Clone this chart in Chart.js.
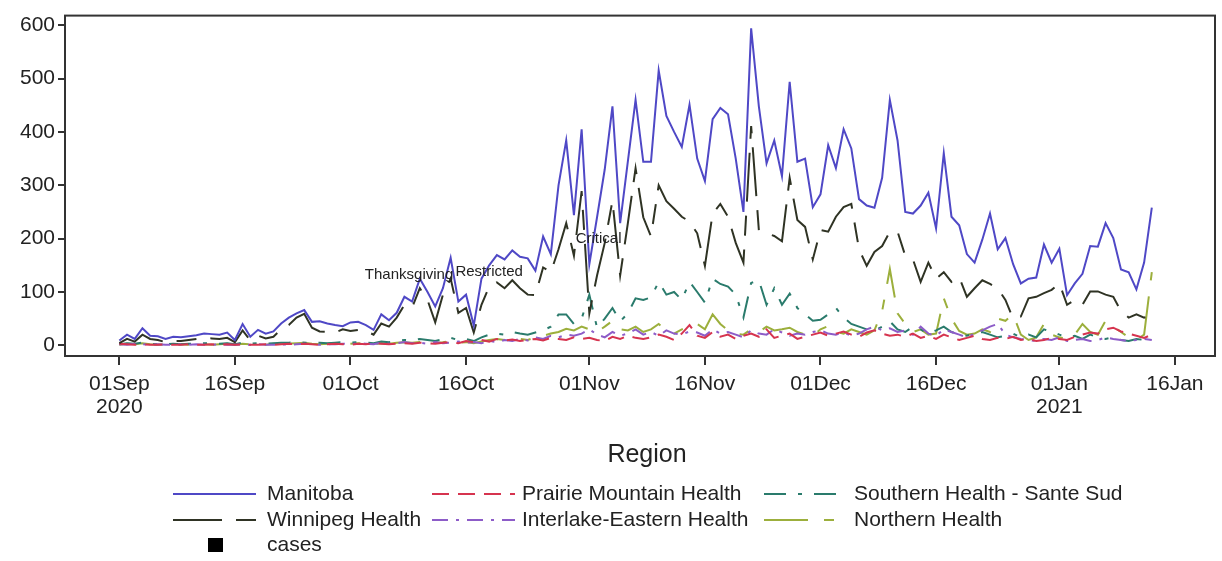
<!DOCTYPE html>
<html><head><meta charset="utf-8">
<script src="https://cdn.jsdelivr.net/npm/chart.js@4"></script>
<style>html,body{margin:0;padding:0;background:#fff;} canvas{display:block;}</style>
</head><body>
<canvas id="c" width="1222" height="561"></canvas>
<script>
// Day index 0 = 01Sep2020
const startDate = '2020-09-01';
const seriesNames = ["Manitoba","Winnipeg Health","Prairie Mountain Health","Interlake-Eastern Health","Southern Health - Sante Sud","Northern Health"];

const manitoba = [
 9,20,12,32,18,17,12,16,15,17,
 19,22,21,20,24,10,40,16,29,22,
 26,41,52,60,66,44,45,41,38,36,
 43,44,38,29,58,47,61,91,82,125,
 100,73,107,164,82,95,37,125,150,169,
 161,178,166,163,140,204,171,300,384,244,
 405,152,240,330,448,229,345,460,344,344,
 515,430,400,372,451,350,308,424,445,433,
 350,250,594,448,341,384,317,494,344,350,
 259,283,375,332,405,369,274,262,258,314,
 460,384,250,247,262,286,219,360,241,225,
 171,155,198,247,180,201,152,116,125,127,
 189,155,181,94,116,134,186,185,229,201,
 142,137,105,155,258];
const winnipeg = [
 4,12,7,20,12,10,6,8,8,10,
 12,14,13,12,14,6,28,9,18,13,
 16,30,38,52,59,33,26,25,24,30,
 27,29,27,20,41,35,52,76,71,107,
 85,43,95,125,61,70,24,76,110,118,
 107,122,107,95,94,146,137,180,229,168,
 289,60,131,192,271,131,229,332,240,204,
 300,270,256,241,232,210,149,247,265,241,
 192,155,411,216,210,205,195,314,235,222,
 161,216,213,241,259,265,180,149,175,186,
 213,213,168,161,119,155,125,137,119,128,
 91,107,122,115,107,85,50,54,88,91,
 98,104,116,76,85,76,101,101,95,91,
 64,52,58,52,55];
const prairie = [
 3,2,1,2,1,1,2,1,1,2,1,1,2,1,2,1,2,1,1,2,1,
 2,3,2,3,2,1,2,3,2,1,3,2,4,3,2,3,4,3,5,4,
 3,5,6,4,8,6,10,7,12,9,11,8,10,12,9,14,12,10,15,12,
 14,10,8,16,12,18,14,12,15,20,16,10,22,38,18,14,25,16,20,12,
 18,22,16,30,14,18,22,12,16,20,24,18,22,26,20,16,24,28,22,18,
 20,16,22,14,18,12,20,15,10,14,18,12,10,14,12,16,10,12,8,10,
 14,12,10,16,20,24,22,30,33,26,22,18,14,20];
const interlake = [
 2,1,3,2,1,2,1,1,2,1,2,1,1,2,1,1,2,1,2,1,1,
 2,1,2,3,2,1,2,2,3,2,4,3,2,5,3,4,6,4,5,3,
 6,4,5,7,5,6,4,8,6,10,8,12,9,15,12,18,15,20,18,22,
 30,20,15,25,18,22,30,20,25,18,28,22,20,26,24,18,30,22,25,20,
 15,28,22,20,30,24,18,22,20,25,28,22,20,24,18,22,30,35,28,32,
 25,28,20,35,22,18,30,25,20,15,22,28,35,40,20,15,12,10,8,12,
 10,15,8,10,12,8,10,15,12,10,8,10,12,10];
const southern = [
 2,4,3,5,3,2,2,3,2,3,3,4,4,3,4,2,5,3,4,3,4,
 5,5,6,5,4,5,4,5,6,5,6,5,4,7,6,
 8,10,9,12,10,8,12,14,10,12,8,15,20,22,20,
 25,22,20,24,28,35,58,58,40,50,
 95,33,50,70,45,60,88,85,90,119,
 95,100,85,119,100,80,125,115,110,95,
 52,117,122,76,107,76,97,70,58,46,
 48,58,70,52,40,35,30,28,35,45,
 30,25,35,30,22,28,35,25,20,18,
 22,25,20,15,18,22,15,20,15,30,
 25,20,15,18,12,20,15,12,15,10,
 8,12,10,8];
const northern = [
 1,3,2,4,2,1,2,1,2,1,2,2,1,2,3,1,3,2,2,1,3,
 2,3,4,5,3,2,3,4,2,3,4,3,2,4,3,
 5,6,5,6,4,5,6,8,5,6,4,7,10,12,10,
 14,12,10,15,18,22,25,31,28,35,
 30,25,35,46,30,28,35,25,30,40,
 28,22,30,35,40,30,58,40,28,22,
 20,30,25,35,28,30,33,25,20,18,
 30,36,25,22,30,25,20,28,64,143,
 60,40,25,30,20,22,88,50,27,20,
 22,30,25,50,46,58,20,10,15,40,
 20,15,12,20,40,25,20,46,35,25,
 15,10,20,137];

const tickDays = [0,15,30,45,61,76,91,106,122,137];
const tickLabels = [["01Sep","2020"],"16Sep","01Oct","16Oct","01Nov","16Nov","01Dec","16Dec",["01Jan","2021"],"16Jan"];
const yTicks = [0,100,200,300,400,500,600];

const annotTexts = ["Thanksgiving","Restricted","Critical"];
const annotDays = [37.6,48,62.2];
const annotValues = [132,137,199];

const FONT = "'Liberation Sans', Arial, sans-serif";
const TXT = '#222';
const AX = '#333';
const styles = [
 {color:'#4f48c6', dash:[]},
 {color:'#2f3324', dash:[49,14,20,14]},
 {color:'#d6344f', dash:[17,9]},
 {color:'#8d5cc8', dash:[16,8,3,8]},
 {color:'#2a7b6c', dash:[22,12,4,12]},
 {color:'#9caf3c', dash:[44,16,10,16]}
];
const seriesValues = [manitoba, winnipeg, prairie, interlake, southern, northern];

const datasets = seriesNames.map((n,i)=>({
  label:n,
  data: seriesValues[i].map((v,d)=>({x:d,y:v})),
  borderColor: styles[i].color,
  borderDash: styles[i].dash,
  borderWidth: 2,
  pointRadius: 0,
  tension: 0,
  fill: false
}));

const extras = {
  id:'extras',
  afterDraw(chart){
    const ctx = chart.ctx, ca = chart.chartArea;
    const xs = chart.scales.x, ys = chart.scales.y;
    ctx.save();
    // annotations
    ctx.font = "15px " + FONT;
    ctx.fillStyle = TXT;
    ctx.textAlign = 'center';
    ctx.textBaseline = 'middle';
    annotTexts.forEach((t,i)=>{
      ctx.fillText(t, xs.getPixelForValue(annotDays[i]), ys.getPixelForValue(annotValues[i]));
    });
    // frame
    ctx.strokeStyle = AX; ctx.lineWidth = 2; ctx.setLineDash([]);
    ctx.strokeRect(ca.left, ca.top, ca.right-ca.left, ca.bottom-ca.top);
    // axis title
    ctx.font = "25px " + FONT;
    ctx.fillStyle = TXT;
    ctx.textAlign = 'center';
    ctx.fillText("Region", 647, 455);
    // legend
    const colLine = [173, 432, 764];
    const colText = [267, 522, 854];
    const rowY = [494, 520, 545];
    ctx.font = "21px " + FONT;
    ctx.textAlign = 'left';
    seriesNames.forEach((n,i)=>{
      const c = Math.floor(i/2), r = i%2;
      ctx.strokeStyle = styles[i].color;
      ctx.lineWidth = 2;
      ctx.setLineDash(styles[i].dash);
      ctx.beginPath();
      ctx.moveTo(colLine[c], rowY[r]);
      ctx.lineTo(colLine[c]+83, rowY[r]);
      ctx.stroke();
      ctx.fillStyle = TXT;
      ctx.fillText(n, colText[c], rowY[r]);
    });
    ctx.setLineDash([]);
    ctx.fillStyle = '#000';
    ctx.fillRect(208, 538, 15, 14);
    ctx.fillStyle = TXT;
    ctx.fillText("cases", colText[0], rowY[2]);
    ctx.restore();
  }
};

new Chart(document.getElementById('c'), {
  type:'line',
  data:{datasets},
  options:{
    responsive:false,
    animation:false,
    layout:{padding:{top:5,right:7,left:0,bottom:0}},
    plugins:{legend:{display:false}, tooltip:{enabled:false}},
    scales:{
      x:{
        type:'linear', min:-7.05, max:142.2,
        afterBuildTicks:s=>{ s.ticks = tickDays.map(v=>({value:v})); },
        ticks:{callback:(v,i)=>tickLabels[i], autoSkip:false, maxRotation:0, minRotation:0,
          font:{family:FONT,size:21,lineHeight:1.1}, color:TXT, padding:8},
        grid:{display:true, drawOnChartArea:false, drawTicks:true, tickLength:9, color:AX, lineWidth:2},
        border:{display:true, color:AX, width:2},
        afterFit:s=>{ s.height = 205; }
      },
      y:{
        min:-20, max:618,
        afterBuildTicks:s=>{ s.ticks = yTicks.map(v=>({value:v})); },
        ticks:{font:{family:FONT,size:21}, color:TXT, padding:3},
        grid:{display:true, drawOnChartArea:false, drawTicks:true, tickLength:7, color:AX, lineWidth:2},
        border:{display:true, color:AX, width:2},
        afterFit:s=>{ s.width = 65; }
      }
    }
  },
  plugins:[extras]
});
</script>
</body></html>
